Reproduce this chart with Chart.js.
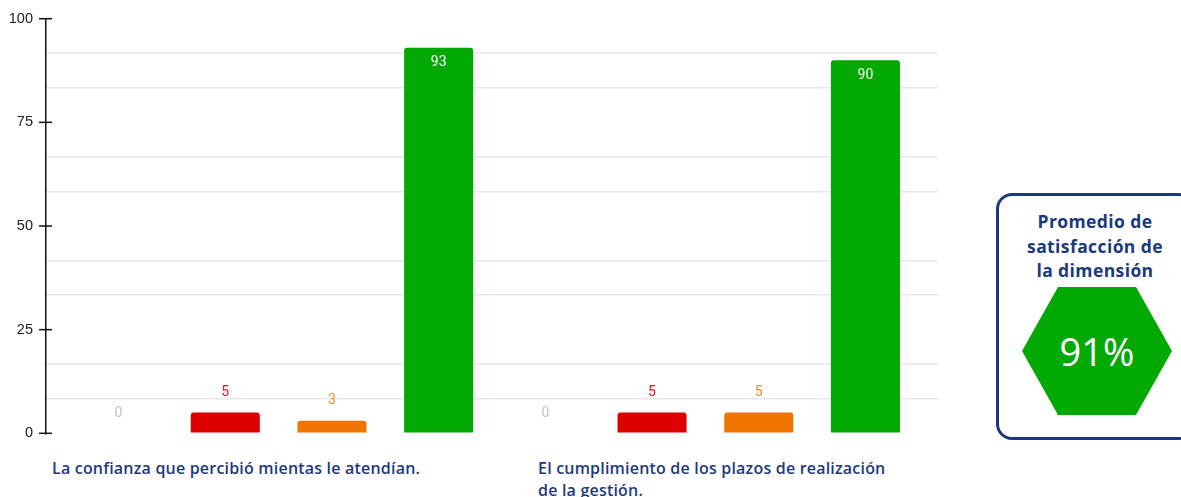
<!DOCTYPE html>
<html>
<head>
<meta charset="utf-8">
<script src="https://cdn.jsdelivr.net/npm/chart.js@4"></script>
<style>
  html, body { margin: 0; padding: 0; background: #fff; overflow: hidden; }
  body { width: 1181px; height: 497px; position: relative; font-family: "Open Sans", sans-serif; }
  #chartWrap { position: absolute; left: 0; top: -3px; width: 950px; height: 458px; }
  .cat-label { position: absolute; color: #1d3a7c; font-size: 16px; font-weight: 600; line-height: 22px; letter-spacing: 0.2px; }
  #label0 { left: 52px; top: 457px; width: 430px; }
  #label1 { left: 538px; top: 457px; width: 362px; }
  .summary-box {
    position: absolute; left: 996px; top: 193px; width: 192px; height: 241px;
    border: 3px solid #1b3a7c; border-radius: 16px; box-sizing: content-box;
  }
  .summary-box__title {
    margin: 13px 0 0 0; text-align: center; color: #1b3a7c;
    font-size: 17.5px; font-weight: 700; line-height: 24.5px; letter-spacing: 0.4px;
  }
  .summary-box__hex {
    position: absolute; left: 23px; top: 91px; width: 150px; height: 128px;
    background: #03a903; color: #fff; font-size: 38px; font-weight: 400;
    display: flex; align-items: center; justify-content: center;
    clip-path: polygon(24% 0, 76% 0, 100% 50%, 76% 100%, 24% 100%, 0 50%);
  }
</style>
</head>
<body>
<div id="chartWrap"><canvas id="satChart" width="950" height="458"></canvas></div>
<div class="cat-label" id="label0"></div>
<div class="cat-label" id="label1"></div>
<div class="summary-box">
  <div class="summary-box__title">Promedio de<br>satisfacción de<br>la dimensión</div>
  <div class="summary-box__hex" id="avgValue"></div>
</div>

<script>
const categories = [
  'La confianza que percibió mientas le atendían.',
  'El cumplimiento de los plazos de realización de la gestión.'
];
const seriesNames = ['Sin respuesta', 'Insatisfecho', 'Neutral', 'Satisfecho'];
const seriesColors = ['#c8c8c8', '#dd0000', '#f07400', '#03a903'];
const labelColors = ['#c4c4c4', '#e8141c', '#f28a2a', '#ffffff'];
const sinRespuesta = [0, 0];
const insatisfecho = [5, 5];
const neutral = [3, 5];
const satisfecho = [93, 90];
const yTickLabels = [0, 25, 50, 75, 100];
const yMinorSplits = 3;
const promedio = 91;

document.getElementById('label0').textContent = categories[0];
document.getElementById('label1').textContent = categories[1];
document.getElementById('avgValue').textContent = promedio + '%';

const allSeries = [sinRespuesta, insatisfecho, neutral, satisfecho];

const datasets = allSeries.map((values, s) => ({
  label: seriesNames[s],
  data: values.map((v, i) => ({ x: i, y: v })),
  backgroundColor: seriesColors[s],
  borderRadius: 3,
  categoryPercentage: 1,
  barPercentage: 0.647
}));

// grid lines every 25/3, labels only on the major ones
const yStep = (yTickLabels[1] - yTickLabels[0]) / yMinorSplits;
const yGrid = [];
for (let k = 0; k <= (yTickLabels.length - 1) * yMinorSplits; k++) {
  yGrid.push(k * yStep);
}

const tickCross = {
  id: 'tickCross',
  afterDraw(chart) {
    const y = chart.scales.y;
    const ctx = chart.ctx;
    const x0 = chart.chartArea.left;
    ctx.save();
    ctx.strokeStyle = '#111';
    ctx.lineWidth = 1.5;
    yTickLabels.forEach(v => {
      const py = y.getPixelForValue(v);
      ctx.beginPath();
      ctx.moveTo(x0 - 7, py);
      ctx.lineTo(x0 + 6, py);
      ctx.stroke();
    });
    ctx.restore();
  }
};

const barValues = {
  id: 'barValues',
  afterDatasetsDraw(chart) {
    const ctx = chart.ctx;
    ctx.save();
    ctx.font = '400 14px Roboto';
    ctx.textAlign = 'center';
    ctx.textBaseline = 'middle';
    chart.data.datasets.forEach((ds, s) => {
      const meta = chart.getDatasetMeta(s);
      meta.data.forEach((bar, i) => {
        const v = ds.data[i].y;
        ctx.fillStyle = labelColors[s];
        if (v > 50) {
          ctx.fillText(v, bar.x, bar.y + 15);
        } else {
          ctx.fillText(v, bar.x, bar.y - 20);
        }
      });
    });
    ctx.restore();
  }
};

new Chart(document.getElementById('satChart'), {
  type: 'bar',
  data: { datasets },
  plugins: [tickCross, barValues],
  options: {
    responsive: false,
    animation: false,
    layout: { padding: { top: 15, right: 12, bottom: 12, left: 0 } },
    plugins: { legend: { display: false }, tooltip: { enabled: false } },
    scales: {
      x: {
        type: 'linear',
        display: false,
        offset: false,
        min: -0.545,
        max: categories.length - 1 + 0.545,
        afterBuildTicks: scale => {
          scale.ticks = categories.map((c, i) => ({ value: i }));
        }
      },
      y: {
        min: 0,
        max: 100,
        afterBuildTicks: scale => {
          scale.ticks = yGrid.map(v => ({ value: v }));
        },
        afterFit: scale => { scale.width = 46; },
        ticks: {
          autoSkip: false,
          padding: 13,
          color: '#222',
          font: { family: 'Liberation Sans', size: 14.5 },
          callback: (value, index) => index % yMinorSplits === 0 ? yTickLabels[index / yMinorSplits] : ''
        },
        grid: {
          drawTicks: false,
          lineWidth: 1.5,
          color: c => c.index % yMinorSplits === 0 ? 'rgba(0,0,0,0)' : '#e8e8e8'
        },
        border: { display: true, color: '#111', width: 1.5 }
      }
    }
  }
});
</script>
</body>
</html>
